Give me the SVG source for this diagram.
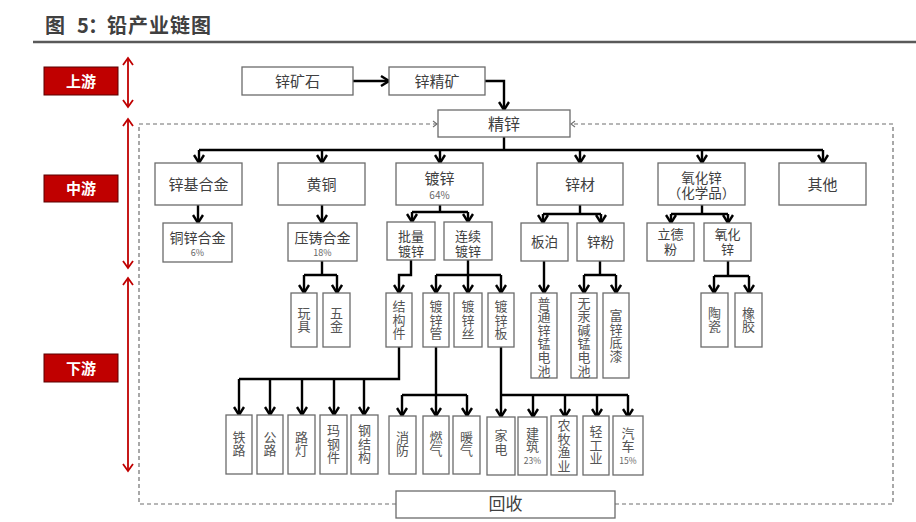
<svg xmlns="http://www.w3.org/2000/svg" width="916" height="522" viewBox="0 0 916 522">
<defs>
<style>
.bx{fill:#fff;stroke:#6b6b6b;stroke-width:1.3}
.t{font-family:"Liberation Sans","Noto Sans CJK SC","Microsoft YaHei",sans-serif;fill:#404040;text-anchor:middle}
.v{font-family:"Noto Sans CJK SC","Microsoft YaHei",sans-serif;fill:#555;text-anchor:middle;writing-mode:vertical-rl;font-size:13px;letter-spacing:0.6px}
.p{font-family:"Noto Sans CJK SC",sans-serif;fill:#666;text-anchor:middle}
.c{stroke:#000;stroke-width:2.4;fill:none}
.ca{stroke:#000;stroke-width:2.4;fill:none;marker-end:url(#ah)}
.lab{fill:#c00000;stroke:#5a0000;stroke-width:1}
.lt{font-family:"Noto Sans CJK SC",sans-serif;font-weight:bold;fill:#fff;font-size:15px;text-anchor:middle}
.ra{stroke:#c00000;stroke-width:1.8;fill:none;marker-start:url(#rh);marker-end:url(#rh)}
.dash{stroke:#6f6f6f;stroke-width:1.2;fill:none;stroke-dasharray:4 3;marker-end:url(#dh)}
</style>
<marker id="ah" markerUnits="userSpaceOnUse" viewBox="0 0 12 12" refX="10" refY="6" markerWidth="12" markerHeight="12" orient="auto">
<path d="M2,1 L10,6 L2,11" fill="none" stroke="#000" stroke-width="2.4"/>
</marker>
<marker id="rh" markerUnits="userSpaceOnUse" viewBox="0 0 12 12" refX="10" refY="6" markerWidth="12" markerHeight="12" orient="auto-start-reverse">
<path d="M3,1 L10,6 L3,11" fill="none" stroke="#c00000" stroke-width="1.8"/>
</marker>
<marker id="dh" markerUnits="userSpaceOnUse" viewBox="0 0 10 10" refX="8" refY="5" markerWidth="10" markerHeight="10" orient="auto">
<path d="M4,2 L8,5 L4,8" fill="none" stroke="#6f6f6f" stroke-width="1.1"/>
</marker>
</defs>
<rect width="916" height="522" fill="#fff"/>

<g id="title">
<text y="33" font-family="'Noto Sans CJK SC',sans-serif" font-weight="bold" font-size="20" fill="#404040"><tspan x="45">图</tspan><tspan x="77">5</tspan><tspan x="88">：</tspan><tspan x="107" letter-spacing="1">铅产业链图</tspan></text>
<line x1="33" y1="42" x2="916" y2="42" stroke="#595959" stroke-width="2.5"/>
</g>

<g id="stage-labels">
<g id="up"><rect class="lab" x="44" y="67" width="74" height="28"/><text class="lt" x="81" y="86.5">上游</text><path class="ra" d="M128,58 V107"/></g>
<g id="mid"><rect class="lab" x="44" y="175" width="74" height="27"/><text class="lt" x="81" y="194">中游</text><path class="ra" d="M128,119 V268"/></g>
<g id="down"><rect class="lab" x="44" y="354" width="74" height="28"/><text class="lt" x="81" y="373.5">下游</text><path class="ra" d="M128,278 V471"/></g>
</g>

<g id="recycle-loop">
<path class="dash" d="M396,504 H139 V124 H437"/>
<path class="dash" d="M615,504 H893 V124 H571"/>
</g>

<g id="connectors">
<path class="ca" d="M353,81 H389"/>
<path class="ca" d="M485,81 H504 V110"/>
<path class="c" d="M504,137 V150 M199,150 H823"/>
<path class="ca" d="M199,150 V163"/><path class="ca" d="M322,150 V163"/><path class="ca" d="M440,150 V163"/><path class="ca" d="M580,150 V163"/><path class="ca" d="M702,150 V163"/><path class="ca" d="M823,150 V163"/>
<path class="ca" d="M198,205 V223"/>
<path class="ca" d="M322,205 V223"/>
<path class="c" d="M440,205 V212 M412,212 H468"/><path class="ca" d="M412,212 V222"/><path class="ca" d="M468,212 V222"/>
<path class="c" d="M580,205 V214 M543,214 H601"/><path class="ca" d="M543,214 V223"/><path class="ca" d="M601,214 V223"/>
<path class="c" d="M702,205 V214 M671,214 H728"/><path class="ca" d="M671,214 V223"/><path class="ca" d="M728,214 V223"/>
<path class="c" d="M322,261 V275 M304,275 H337"/><path class="ca" d="M304,275 V293"/><path class="ca" d="M337,275 V293"/>
<path class="ca" d="M411,260 V275 H399 V293"/>
<path class="c" d="M468,260 V275 M436,275 H501"/><path class="ca" d="M436,275 V293"/><path class="ca" d="M468,275 V293"/><path class="ca" d="M501,275 V293"/>
<path class="ca" d="M544,261 V293"/>
<path class="c" d="M600,261 V275 M584,275 H616"/><path class="ca" d="M584,275 V293"/><path class="ca" d="M616,275 V293"/>
<path class="c" d="M728,261 V276 M714,276 H749"/><path class="ca" d="M714,276 V293"/><path class="ca" d="M749,276 V293"/>
<path class="c" d="M399,347 V379 H239"/><path class="ca" d="M239,379 V415"/><path class="ca" d="M270,379 V415"/><path class="ca" d="M302,379 V415"/><path class="ca" d="M334,379 V415"/><path class="ca" d="M364,379 V415"/>
<path class="ca" d="M436,347 V416"/><path class="c" d="M402,395 H467"/><path class="ca" d="M402,395 V416"/><path class="ca" d="M467,395 V416"/>
<path class="ca" d="M501,347 V417"/><path class="c" d="M501,395 H628"/><path class="ca" d="M533,395 V417"/><path class="ca" d="M565,395 V417"/><path class="ca" d="M597,395 V417"/><path class="ca" d="M628,395 V417"/>
</g>

<g id="n-ore"><rect class="bx" x="242" y="67" width="111" height="28"/><text class="t" x="297.5" y="86.5" font-size="15">锌矿石</text></g>
<g id="n-conc"><rect class="bx" x="389" y="67" width="96" height="28"/><text class="t" x="437" y="86.5" font-size="15">锌精矿</text></g>
<g id="n-refined"><rect class="bx" x="438" y="110" width="132" height="27"/><text class="t" x="504" y="129.5" font-size="16">精锌</text></g>

<g id="n-alloy"><rect class="bx" x="155" y="163" width="87" height="42"/><text class="t" x="198.5" y="189.5" font-size="15">锌基合金</text></g>
<g id="n-brass"><rect class="bx" x="278" y="163" width="87" height="42"/><text class="t" x="321.5" y="189.5" font-size="15">黄铜</text></g>
<g id="n-galv"><rect class="bx" x="396" y="163" width="87" height="42"/><text class="t" x="439.5" y="183.5" font-size="15">镀锌</text><text class="p" x="439.5" y="198.5" font-size="10">64%</text></g>
<g id="n-zincmat"><rect class="bx" x="537" y="163" width="86" height="42"/><text class="t" x="580" y="189.5" font-size="15">锌材</text></g>
<g id="n-zno"><rect class="bx" x="658" y="163" width="87" height="42"/><text class="t" x="701.5" y="182.5" font-size="13.5">氧化锌</text><text class="t" x="701.5" y="198" font-size="13.5">（化学品）</text></g>
<g id="n-other"><rect class="bx" x="779" y="163" width="87" height="42"/><text class="t" x="822.5" y="189.5" font-size="15">其他</text></g>

<g id="n-cuzn"><rect class="bx" x="163" y="223" width="69" height="39"/><text class="t" x="197.5" y="242.5" font-size="14">铜锌合金</text><text class="p" x="197.5" y="256" font-size="9">6%</text></g>
<g id="n-diecast"><rect class="bx" x="288" y="223" width="69" height="38"/><text class="t" x="322.5" y="242.5" font-size="14">压铸合金</text><text class="p" x="322.5" y="256" font-size="9">18%</text></g>
<g id="n-batch"><rect class="bx" x="387" y="222" width="48" height="38"/><text class="t" x="411" y="240.5" font-size="13">批量</text><text class="t" x="411" y="255.5" font-size="13">镀锌</text></g>
<g id="n-cont"><rect class="bx" x="444" y="222" width="48" height="38"/><text class="t" x="468" y="240.5" font-size="13">连续</text><text class="t" x="468" y="255.5" font-size="13">镀锌</text></g>
<g id="n-foil"><rect class="bx" x="521" y="223" width="47" height="38"/><text class="t" x="544.5" y="247" font-size="13.5">板泊</text></g>
<g id="n-powder"><rect class="bx" x="577" y="223" width="47" height="38"/><text class="t" x="600.5" y="247" font-size="13.5">锌粉</text></g>
<g id="n-litho"><rect class="bx" x="647" y="223" width="47" height="38"/><text class="t" x="670.5" y="239" font-size="13">立德</text><text class="t" x="670.5" y="254" font-size="13">粉</text></g>
<g id="n-zno2"><rect class="bx" x="704" y="223" width="47" height="38"/><text class="t" x="727.5" y="239" font-size="13">氧化</text><text class="t" x="727.5" y="254" font-size="13">锌</text></g>

<g id="n-toy"><rect class="bx" x="291" y="293" width="26" height="54"/><text class="v" x="304" y="320">玩具</text></g>
<g id="n-hw"><rect class="bx" x="323" y="293" width="27" height="54"/><text class="v" x="336.5" y="320">五金</text></g>
<g id="n-struct"><rect class="bx" x="386" y="293" width="26" height="54"/><text class="v" x="399" y="320">结构件</text></g>
<g id="n-pipe"><rect class="bx" x="423" y="293" width="26" height="54"/><text class="v" x="436" y="320">镀锌管</text></g>
<g id="n-wire"><rect class="bx" x="454" y="293" width="28" height="54"/><text class="v" x="468" y="320">镀锌丝</text></g>
<g id="n-sheet"><rect class="bx" x="488" y="293" width="26" height="54"/><text class="v" x="501" y="320">镀锌板</text></g>
<g id="n-zcbat"><rect class="bx" x="531" y="293" width="26" height="85"/><text class="v" x="544" y="337">普通锌锰电池</text></g>
<g id="n-albat"><rect class="bx" x="571" y="293" width="26" height="85"/><text class="v" x="584" y="337">无汞碱锰电池</text></g>
<g id="n-primer"><rect class="bx" x="603" y="293" width="26" height="85"/><text class="v" x="616" y="336">富锌底漆</text></g>
<g id="n-ceramic"><rect class="bx" x="701" y="293" width="27" height="54"/><text class="v" x="714.5" y="320">陶瓷</text></g>
<g id="n-rubber"><rect class="bx" x="735" y="293" width="27" height="54"/><text class="v" x="748.5" y="320">橡胶</text></g>

<g id="n-rail"><rect class="bx" x="226" y="415" width="26" height="59"/><text class="v" x="239" y="444">铁路</text></g>
<g id="n-road"><rect class="bx" x="257" y="415" width="26" height="59"/><text class="v" x="270" y="444">公路</text></g>
<g id="n-lamp"><rect class="bx" x="288" y="415" width="27" height="59"/><text class="v" x="301.5" y="444">路灯</text></g>
<g id="n-malleable"><rect class="bx" x="320" y="415" width="27" height="59"/><text class="v" x="333.5" y="444">玛钢件</text></g>
<g id="n-steel"><rect class="bx" x="351" y="415" width="27" height="59"/><text class="v" x="364.5" y="444">钢结构</text></g>
<g id="n-fire"><rect class="bx" x="389" y="416" width="27" height="58"/><text class="v" x="402.5" y="444">消防</text></g>
<g id="n-gas"><rect class="bx" x="423" y="416" width="26" height="58"/><text class="v" x="436" y="444">燃气</text></g>
<g id="n-heat"><rect class="bx" x="453" y="416" width="27" height="58"/><text class="v" x="466.5" y="444">暖气</text></g>
<g id="n-appl"><rect class="bx" x="487" y="417" width="28" height="58"/><text class="v" x="501" y="442.5">家电</text></g>
<g id="n-build"><rect class="bx" x="518" y="417" width="29" height="58"/><text class="v" x="532.5" y="440">建筑</text><text class="p" x="532.5" y="464" font-size="8.5">23%</text></g>
<g id="n-agri"><rect class="bx" x="551" y="416" width="26" height="59"/><text class="v" x="564" y="446">农牧渔业</text></g>
<g id="n-light"><rect class="bx" x="583" y="416" width="26" height="59"/><text class="v" x="596" y="445">轻工业</text></g>
<g id="n-auto"><rect class="bx" x="613" y="416" width="30" height="59"/><text class="v" x="628" y="440">汽车</text><text class="p" x="628" y="464" font-size="8.5">15%</text></g>

<g id="n-recycle"><rect class="bx" x="396" y="491" width="219" height="27"/><text class="t" x="505.5" y="510" font-size="17">回收</text></g>
</svg>
